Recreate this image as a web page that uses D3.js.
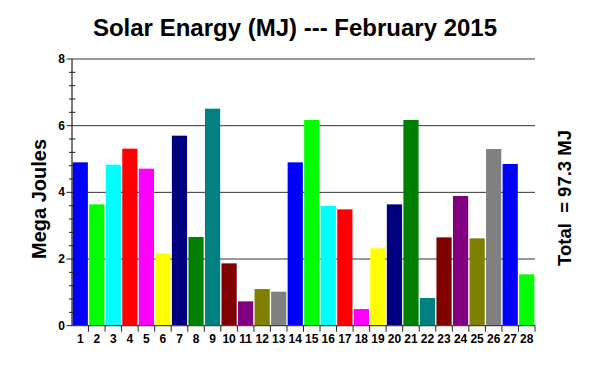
<!DOCTYPE html>
<html>
<head>
<meta charset="utf-8">
<script src="https://cdn.jsdelivr.net/npm/d3@7"></script>
<style>
body { margin: 0; background: #fff; }
text { font-family: Arial, "Liberation Sans", sans-serif; font-weight: bold; fill: #000; }
</style>
</head>
<body>
<svg id="chart"></svg>
<script>
var days = d3.range(1, 29).map(String);
var energy = [4.90, 3.64, 4.83, 5.31, 4.71, 2.17, 5.70, 2.66, 6.51, 1.87, 0.73, 1.10, 1.02, 4.90,
	6.17, 3.59, 3.49, 0.50, 2.32, 3.64, 6.17, 0.83, 2.65, 3.89, 2.62, 5.30, 4.85, 1.54];
var palette = ["#0000ff", "#00ff00", "#00ffff", "#ff0000", "#ff00ff", "#ffff00", "#000080",
	"#008000", "#008080", "#800000", "#800080", "#808000", "#808080"];
var yTicks = [0, 2, 4, 6, 8];
var title = "Solar Enargy (MJ) --- February 2015";
var yTitle = "Mega Joules";
var totalText = "Total  = 97.3 MJ";

var W = 600, H = 367;
var plotL = 72, plotR = 535, plotT = 59, plotB = 325.7;

var svg = d3.select("#chart").attr("width", W).attr("height", H);

var x = d3.scaleBand().domain(days).range([plotL, plotR]).paddingInner(0.08).paddingOuter(0.04);
var y = d3.scaleLinear().domain([0, 8]).range([plotB, plotT]);

// grid lines
svg.selectAll("line.grid").data(yTicks.slice(1)).enter().append("line")
	.attr("x1", plotL).attr("x2", plotR)
	.attr("y1", function(d) { return y(d); }).attr("y2", function(d) { return y(d); })
	.attr("stroke", function(d) { return d == 8 ? "#777" : "#333"; })
	.attr("stroke-width", function(d) { return d == 8 ? 1.6 : 1; });

// bars
svg.selectAll("rect").data(energy).enter().append("rect")
	.attr("x", function(d, i) { return x(days[i]); })
	.attr("width", x.bandwidth())
	.attr("y", function(d) { return y(d); })
	.attr("height", function(d) { return plotB - y(d); })
	.attr("fill", function(d, i) { return palette[i % palette.length]; });

// axis lines
svg.append("line").attr("x1", plotL).attr("x2", plotR).attr("y1", plotB).attr("y2", plotB)
	.attr("stroke", "#444").attr("stroke-width", 1.2);
svg.append("line").attr("x1", plotL).attr("x2", plotL).attr("y1", plotT).attr("y2", plotB)
	.attr("stroke", "#222").attr("stroke-width", 1.2);

// y ticks
var minor = d3.range(0, 8.001, 0.4).filter(function(v) { return Math.abs(v / 2 - Math.round(v / 2)) > 0.01; });
svg.selectAll("line.minor").data(minor).enter().append("line")
	.attr("x1", plotL - 3).attr("x2", plotL + 3.5)
	.attr("y1", function(d) { return y(d); }).attr("y2", function(d) { return y(d); })
	.attr("stroke", "#222");
svg.selectAll("line.major").data(yTicks).enter().append("line")
	.attr("x1", plotL - 5.5).attr("x2", plotL)
	.attr("y1", function(d) { return y(d); }).attr("y2", function(d) { return y(d); })
	.attr("stroke", "#222");
svg.selectAll("text.ylab").data(yTicks).enter().append("text")
	.attr("x", 65).attr("y", function(d) { return y(d) + 4; })
	.attr("text-anchor", "end").attr("font-size", 12)
	.text(function(d) { return d; });

// x ticks at slot boundaries
var step = x.step();
var bounds = days.map(function(d) { return x(d) - step * x.paddingInner() / 2; });
bounds.push(plotR);
svg.selectAll("line.xt").data(bounds.slice(1)).enter().append("line")
	.attr("x1", function(d) { return d; }).attr("x2", function(d) { return d; })
	.attr("y1", plotB).attr("y2", plotB + 6)
	.attr("stroke", "#222");
svg.selectAll("text.xlab").data(days).enter().append("text")
	.attr("x", function(d) { return x(d) + x.bandwidth() / 2; })
	.attr("y", 343).attr("text-anchor", "middle").attr("font-size", 12)
	.text(function(d) { return d; });

// titles
svg.append("text").attr("x", 295).attr("y", 36).attr("text-anchor", "middle")
	.attr("font-size", 24).text(title);
svg.append("text").attr("transform", "translate(46,199) rotate(-90)")
	.attr("text-anchor", "middle").attr("font-size", 20).text(yTitle);
svg.append("text").attr("transform", "translate(571,198) rotate(-90)")
	.attr("text-anchor", "middle").attr("font-size", 18.5).style("white-space", "pre").text(totalText);
</script>
</body>
</html>
